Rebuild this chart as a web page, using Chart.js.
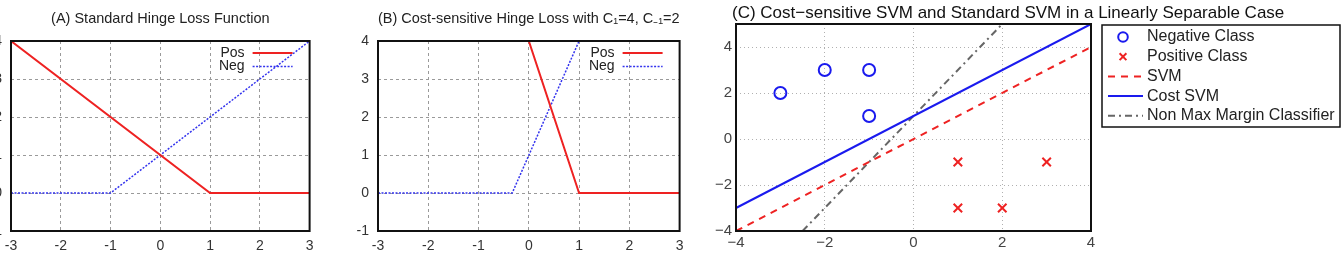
<!DOCTYPE html>
<html>
<head>
<meta charset="utf-8">
<script src="https://cdn.jsdelivr.net/npm/chart.js@4/dist/chart.umd.min.js"></script>
<style>
body { margin: 0; background: #fff; width: 1343px; height: 260px; overflow: hidden; position: relative; }
canvas { position: absolute; top: 0; }
</style>
</head>
<body>
<canvas id="chartA" width="350" height="260" style="left:-30px"></canvas>
<canvas id="chartB" width="350" height="260" style="left:340px"></canvas>
<canvas id="chartC" width="643" height="260" style="left:700px"></canvas>
<script>
// Data
var hingeTicks = [-3, -2, -1, 0, 1, 2, 3];
// (A) standard hinge loss
var aPosX = [-3, 1, 3];
var aPosY = [4, 0, 0];
var aNegX = [-3, -1, 3];
var aNegY = [0, 0, 4];
// (B) cost-sensitive hinge loss
var bPosX = [0, 1, 3];
var bPosY = [4, 0, 0];
var bNegX = [-3, -0.33, 1];
var bNegY = [0, 0, 4];
// (C) SVM example
var negClassX = [-3, -2, -1, -1];
var negClassY = [2, 3, 3, 1];
var posClassX = [1, 3, 1, 2];
var posClassY = [-1, -1, -3, -3];
var svmX = [-4, 4];
var svmY = [-4, 4];
var costSvmX = [-4, 4];
var costSvmY = [-3, 5];
var nonMaxX = [-2.5, 2];
var nonMaxY = [-4, 5];

var FONT = '"Liberation Sans", Arial, sans-serif';

function toPoints(xs, ys) {
    var pts = [];
    for (var i = 0; i < xs.length; i++) {
        pts.push({ x: xs[i], y: ys[i] });
    }
    return pts;
}

//Frame around plot area
var framePlugin = {
    id: 'frame',
    afterDraw: function (chart) {
        var a = chart.chartArea;
        var ctx = chart.ctx;
        ctx.save();
        ctx.strokeStyle = '#111';
        ctx.lineWidth = 2;
        ctx.setLineDash([]);
        ctx.strokeRect(a.left, a.top, a.right - a.left, a.bottom - a.top);
        ctx.restore();
    }
};

//Title drawn by hand so it is never squeezed to the plot width
var titlePlugin = {
    id: 'ptitle',
    afterDraw: function (chart) {
        var t = chart.options.plugins.ptitle;
        if (!t) return;
        var a = chart.chartArea;
        var ctx = chart.ctx;
        ctx.save();
        ctx.font = t.size + 'px ' + FONT;
        ctx.fillStyle = t.color;
        ctx.textBaseline = 'middle';
        if (t.align == 'left') {
            ctx.textAlign = 'left';
            ctx.fillText(t.text, a.left + t.dx, t.y);
        } else {
            ctx.textAlign = 'center';
            ctx.fillText(t.text, (a.left + a.right) / 2 + t.dx, t.y);
        }
        ctx.restore();
    }
};

//gnuplot style key: text then sample line, inside top right
var keyPlugin = {
    id: 'gnukey',
    afterDraw: function (chart) {
        if (!chart.options.plugins.gnukey) return;
        var a = chart.chartArea;
        var ctx = chart.ctx;
        ctx.save();
        chart.data.datasets.forEach(function (ds, i) {
            var y = a.top + 12 + i * 13.5;
            ctx.font = '14px ' + FONT;
            ctx.fillStyle = '#222';
            ctx.textAlign = 'right';
            ctx.textBaseline = 'middle';
            ctx.fillText(ds.label, a.right - 65, y);
            ctx.strokeStyle = ds.borderColor;
            ctx.lineWidth = ds.borderWidth;
            ctx.setLineDash(ds.borderDash || []);
            ctx.beginPath();
            ctx.moveTo(a.right - 57, y);
            ctx.lineTo(a.right - 17, y);
            ctx.stroke();
        });
        ctx.restore();
    }
};

//MATLAB style boxed legend to the right of plot C
var boxLegendPlugin = {
    id: 'boxlegend',
    afterDraw: function (chart) {
        if (!chart.options.plugins.boxlegend) return;
        var a = chart.chartArea;
        var ctx = chart.ctx;
        var left = a.right + 11;
        var top = 25;
        ctx.save();
        ctx.fillStyle = '#fff';
        ctx.fillRect(left, top, 238, 102);
        ctx.strokeStyle = '#111';
        ctx.lineWidth = 1.5;
        ctx.strokeRect(left, top, 238, 102);
        chart.data.datasets.forEach(function (ds, i) {
            var y = top + 12 + i * 19.7;
            if (ds.showLine) {
                ctx.strokeStyle = ds.borderColor;
                ctx.lineWidth = ds.borderWidth;
                ctx.setLineDash(ds.borderDash || []);
                ctx.beginPath();
                ctx.moveTo(left + 6, y);
                ctx.lineTo(left + 41, y);
                ctx.stroke();
                ctx.setLineDash([]);
            } else {
                ctx.strokeStyle = ds.borderColor;
                ctx.fillStyle = 'rgba(0,0,0,0)';
                ctx.lineWidth = ds.borderWidth;
                Chart.helpers.drawPoint(ctx, {
                    pointStyle: ds.pointStyle,
                    radius: ds.pointRadius * 0.8,
                    borderWidth: ds.borderWidth,
                    rotation: 0
                }, left + 21, y);
            }
            ctx.font = '16px ' + FONT;
            ctx.fillStyle = '#222';
            ctx.textAlign = 'left';
            ctx.textBaseline = 'middle';
            ctx.fillText(ds.label, left + 45, y);
        });
        ctx.restore();
    }
};

function hingeOptions(title, padLeft, yWidth, padRight) {
    return {
        responsive: false,
        animation: false,
        layout: { padding: { left: padLeft, right: padRight, top: 41, bottom: 0 } },
        plugins: {
            legend: { display: false },
            tooltip: { enabled: false },
            gnukey: true,
            ptitle: { text: title, size: 14.5, color: '#222', y: 19, dx: 0, align: 'center' }
        },
        scales: {
            x: {
                type: 'linear',
                min: -3,
                max: 3,
                afterFit: function (s) { s.height = 29; },
                afterBuildTicks: function (s) { s.ticks = hingeTicks.map(function (v) { return { value: v }; }); },
                grid: { color: '#9a9a9a', drawTicks: false },
                border: { display: false, dash: [3, 3] },
                ticks: { padding: 6.5, color: '#333', font: { family: FONT, size: 14 } }
            },
            y: {
                type: 'linear',
                min: -1,
                max: 4,
                afterFit: function (s) { s.width = yWidth; },
                grid: { color: '#9a9a9a', drawTicks: false },
                border: { display: false, dash: [3, 3] },
                ticks: { stepSize: 1, padding: 9, color: '#333', font: { family: FONT, size: 14 } }
            }
        }
    };
}

function hingeData(px, py, nx, ny) {
    return {
        datasets: [{
            label: 'Pos',
            data: toPoints(px, py),
            showLine: true,
            borderColor: '#ee2222',
            borderWidth: 2,
            pointRadius: 0
        }, {
            label: 'Neg',
            data: toPoints(nx, ny),
            showLine: true,
            borderColor: '#3333ee',
            borderWidth: 1.5,
            borderDash: [2, 1.5],
            pointRadius: 0
        }]
    };
}

new Chart(document.getElementById('chartA'), {
    type: 'scatter',
    data: hingeData(aPosX, aPosY, aNegX, aNegY),
    options: hingeOptions('(A) Standard Hinge Loss Function', 5, 36, 8),
    plugins: [framePlugin, keyPlugin, titlePlugin]
});

new Chart(document.getElementById('chartB'), {
    type: 'scatter',
    data: hingeData(bPosX, bPosY, bNegX, bNegY),
    options: hingeOptions('(B) Cost-sensitive Hinge Loss with C\u2081=4, C\u208B\u2081=2', 5, 33, 10),
    plugins: [framePlugin, keyPlugin, titlePlugin]
});

function minusLabel(v) {
    return v < 0 ? '\u2212' + Math.abs(v) : '' + v;
}

new Chart(document.getElementById('chartC'), {
    type: 'scatter',
    data: {
        datasets: [{
            label: 'Negative Class',
            data: toPoints(negClassX, negClassY),
            pointStyle: 'circle',
            pointRadius: 6,
            borderWidth: 2,
            borderColor: '#1a1aee',
            backgroundColor: 'rgba(0,0,0,0)'
        }, {
            label: 'Positive Class',
            data: toPoints(posClassX, posClassY),
            pointStyle: 'crossRot',
            pointRadius: 6,
            borderWidth: 2,
            borderColor: '#ee2222'
        }, {
            label: 'SVM',
            data: toPoints(svmX, svmY),
            showLine: true,
            borderColor: '#ee2222',
            borderWidth: 2,
            borderDash: [7, 6],
            pointRadius: 0
        }, {
            label: 'Cost SVM',
            data: toPoints(costSvmX, costSvmY),
            showLine: true,
            borderColor: '#1a1aee',
            borderWidth: 2,
            pointRadius: 0
        }, {
            label: 'Non Max Margin Classifier',
            data: toPoints(nonMaxX, nonMaxY),
            showLine: true,
            borderColor: '#666',
            borderWidth: 2,
            borderDash: [7, 4, 2, 4],
            pointRadius: 0
        }]
    },
    options: {
        responsive: false,
        animation: false,
        layout: { padding: { left: 4, right: 252, top: 24, bottom: 0 } },
        plugins: {
            legend: { display: false },
            tooltip: { enabled: false },
            boxlegend: true,
            ptitle: {
                text: '(C) Cost\u2212sensitive SVM and Standard SVM in a Linearly Separable Case',
                size: 17, color: '#111', y: 13, dx: -4, align: 'left'
            }
        },
        scales: {
            x: {
                type: 'linear',
                min: -4,
                max: 4,
                afterFit: function (s) { s.height = 29; },
                grid: { color: '#b0b0b0', drawTicks: false },
                border: { display: false, dash: [1, 3] },
                ticks: { stepSize: 2, padding: 3, color: '#444', callback: minusLabel, font: { family: FONT, size: 15 } }
            },
            y: {
                type: 'linear',
                min: -4,
                max: 5,
                afterFit: function (s) { s.width = 32; },
                grid: { color: '#b0b0b0', drawTicks: false },
                border: { display: false, dash: [1, 3] },
                ticks: { stepSize: 2, includeBounds: false, padding: 4, color: '#444', callback: minusLabel, font: { family: FONT, size: 15 } }
            }
        }
    },
    plugins: [framePlugin, boxLegendPlugin, titlePlugin]
});
</script>
</body>
</html>
